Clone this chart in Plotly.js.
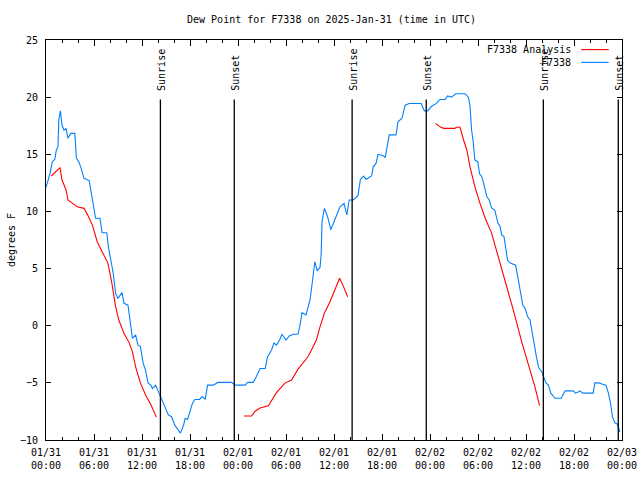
<!DOCTYPE html>
<html>
<head>
<meta charset="utf-8">
<script src="https://cdn.plot.ly/plotly-3.0.1.min.js"></script>
<style>html,body{margin:0;padding:0;background:#fff;}#chart{width:640px;height:480px;}</style>
</head>
<body>
<div id="chart"></div>
<script>
// Observed dew point (F7338)
const obsTimes = [
 "2025-01-31 00:00","2025-01-31 00:30","2025-01-31 00:48","2025-01-31 01:06","2025-01-31 01:18","2025-01-31 01:30",
 "2025-01-31 01:36","2025-01-31 01:48","2025-01-31 02:00","2025-01-31 02:15","2025-01-31 02:30","2025-01-31 02:45",
 "2025-01-31 03:06","2025-01-31 03:36","2025-01-31 03:48","2025-01-31 04:06","2025-01-31 04:24","2025-01-31 04:45",
 "2025-01-31 05:24","2025-01-31 05:36","2025-01-31 06:00","2025-01-31 06:12","2025-01-31 06:45","2025-01-31 07:00",
 "2025-01-31 07:36","2025-01-31 07:48","2025-01-31 08:06","2025-01-31 08:24","2025-01-31 08:42","2025-01-31 09:00",
 "2025-01-31 09:30","2025-01-31 09:45","2025-01-31 10:15","2025-01-31 10:30","2025-01-31 10:48","2025-01-31 11:12",
 "2025-01-31 11:30","2025-01-31 11:48","2025-01-31 12:09","2025-01-31 12:27","2025-01-31 12:45","2025-01-31 13:06",
 "2025-01-31 13:18","2025-01-31 13:42","2025-01-31 14:00","2025-01-31 14:30","2025-01-31 14:54","2025-01-31 15:18",
 "2025-01-31 15:42","2025-01-31 16:06","2025-01-31 16:30","2025-01-31 16:48","2025-01-31 17:12","2025-01-31 17:24",
 "2025-01-31 17:42","2025-01-31 18:00","2025-01-31 18:18","2025-01-31 18:36","2025-01-31 19:12","2025-01-31 19:30",
 "2025-01-31 19:54","2025-01-31 20:12","2025-01-31 20:54","2025-01-31 21:30","2025-01-31 23:12","2025-01-31 23:36",
 "2025-02-01 00:54","2025-02-01 01:12","2025-02-01 01:54","2025-02-01 02:12","2025-02-01 02:45","2025-02-01 03:24",
 "2025-02-01 03:42","2025-02-01 03:54","2025-02-01 04:12","2025-02-01 04:30","2025-02-01 04:48","2025-02-01 05:12",
 "2025-02-01 05:30","2025-02-01 06:00","2025-02-01 06:24","2025-02-01 06:54","2025-02-01 07:30","2025-02-01 07:45",
 "2025-02-01 08:00","2025-02-01 08:30","2025-02-01 08:48","2025-02-01 09:00","2025-02-01 09:12","2025-02-01 09:24",
 "2025-02-01 09:36","2025-02-01 09:54","2025-02-01 10:15","2025-02-01 10:24","2025-02-01 10:30","2025-02-01 10:48",
 "2025-02-01 11:12","2025-02-01 11:36","2025-02-01 11:54","2025-02-01 12:18","2025-02-01 12:45","2025-02-01 13:15",
 "2025-02-01 13:36","2025-02-01 13:54","2025-02-01 14:24","2025-02-01 15:00","2025-02-01 15:18","2025-02-01 15:42",
 "2025-02-01 16:00","2025-02-01 16:42","2025-02-01 16:54","2025-02-01 17:15","2025-02-01 17:30","2025-02-01 18:06",
 "2025-02-01 18:24","2025-02-01 18:36","2025-02-01 18:54","2025-02-01 19:45","2025-02-01 20:00","2025-02-01 20:30",
 "2025-02-01 20:54","2025-02-01 21:24","2025-02-01 22:54","2025-02-01 23:18","2025-02-01 23:42","2025-02-02 00:12",
 "2025-02-02 00:48","2025-02-02 01:15","2025-02-02 01:54","2025-02-02 02:12","2025-02-02 02:42","2025-02-02 03:12",
 "2025-02-02 04:24","2025-02-02 04:48","2025-02-02 05:00","2025-02-02 05:12","2025-02-02 05:24","2025-02-02 05:36",
 "2025-02-02 05:58","2025-02-02 06:12","2025-02-02 06:30","2025-02-02 06:48","2025-02-02 07:06","2025-02-02 07:24",
 "2025-02-02 07:42","2025-02-02 08:06","2025-02-02 08:30","2025-02-02 08:45","2025-02-02 08:58","2025-02-02 09:15",
 "2025-02-02 09:30","2025-02-02 09:42","2025-02-02 10:06","2025-02-02 10:42","2025-02-02 10:58","2025-02-02 11:15",
 "2025-02-02 11:36","2025-02-02 11:54","2025-02-02 12:12","2025-02-02 12:30","2025-02-02 12:42","2025-02-02 13:00",
 "2025-02-02 13:18","2025-02-02 13:36","2025-02-02 13:58","2025-02-02 14:12","2025-02-02 14:30","2025-02-02 14:48",
 "2025-02-02 15:06","2025-02-02 15:24","2025-02-02 15:36","2025-02-02 16:24","2025-02-02 16:54","2025-02-02 17:54",
 "2025-02-02 18:12","2025-02-02 18:30","2025-02-02 18:45","2025-02-02 19:06","2025-02-02 20:24","2025-02-02 20:36",
 "2025-02-02 21:06","2025-02-02 21:30","2025-02-02 22:00","2025-02-02 22:18","2025-02-02 22:36","2025-02-02 22:48",
 "2025-02-02 23:06","2025-02-02 23:24","2025-02-02 23:45"
];
const obsDew = [
 12.1,13.3,14.35,14.55,15.4,15.67,
 18.0,18.8,17.56,17.1,17.27,16.4,
 16.83,16.83,14.65,14.35,13.77,12.9,
 12.7,11.9,10.4,9.4,9.4,8.14,
 8.14,6.9,5.75,4.6,2.83,2.4,
 2.9,1.96,1.8,0.65,-1.1,-0.8,
 -1.7,-1.8,-3.3,-3.9,-5.0,-5.2,
 -5.5,-5.2,-5.7,-6.5,-7.2,-7.8,
 -7.96,-8.7,-9.1,-9.4,-8.7,-8.1,
 -8.2,-7.4,-6.8,-6.45,-6.45,-6.2,
 -6.45,-5.2,-5.2,-4.96,-4.96,-5.2,
 -5.2,-4.96,-4.96,-4.6,-3.75,-3.75,
 -2.7,-2.5,-2.1,-1.5,-1.7,-1.25,
 -0.75,-1.25,-0.9,-0.75,-0.75,0.06,
 1.14,0.94,1.8,2.25,3.3,4.7,
 5.6,4.8,5.1,6.3,9.1,10.27,
 9.54,8.4,8.96,9.7,10.4,10.7,
 9.7,11.0,11.0,11.4,12.8,13.1,
 12.8,13.1,13.9,14.2,15.0,14.9,
 14.7,15.5,16.7,16.7,17.85,18.15,
 19.3,19.45,19.45,18.8,18.8,19.2,
 19.45,19.8,19.8,20.1,20.0,20.3,
 20.3,20.0,19.2,17.1,16.1,14.5,
 14.35,13.3,13.0,12.2,11.3,11.0,
 10.3,10.1,8.96,8.7,7.94,7.8,
 6.6,5.7,5.46,5.3,4.3,3.1,
 1.8,1.5,0.8,0.5,-0.4,-1.5,
 -2.7,-3.7,-4.0,-4.46,-5.0,-5.2,
 -5.9,-6.15,-6.35,-6.35,-5.7,-5.7,
 -5.9,-5.8,-5.7,-5.9,-5.9,-5.0,
 -5.0,-5.1,-5.2,-5.9,-6.9,-7.96,
 -8.5,-8.6,-9.3
];

// Analysis dew point (F7338 Analysis); null marks a gap
const anaTimes = [
 "2025-01-31 00:40","2025-01-31 01:45","2025-01-31 02:00","2025-01-31 02:30","2025-01-31 02:45","2025-01-31 03:18",
 "2025-01-31 03:54","2025-01-31 04:45","2025-01-31 05:12","2025-01-31 05:48","2025-01-31 06:24","2025-01-31 07:00",
 "2025-01-31 07:45","2025-01-31 08:12","2025-01-31 08:42","2025-01-31 09:06","2025-01-31 09:45","2025-01-31 10:24",
 "2025-01-31 10:48","2025-01-31 11:12","2025-01-31 11:48","2025-01-31 12:27","2025-01-31 13:06","2025-01-31 13:48",
 "2025-01-31 14:00",
 "2025-02-01 00:45","2025-02-01 01:42","2025-02-01 02:06","2025-02-01 02:45","2025-02-01 03:48","2025-02-01 04:12",
 "2025-02-01 04:48","2025-02-01 05:54","2025-02-01 06:42","2025-02-01 07:30","2025-02-01 08:42","2025-02-01 09:12",
 "2025-02-01 09:48","2025-02-01 10:15","2025-02-01 10:48","2025-02-01 11:30","2025-02-01 12:06","2025-02-01 12:42",
 "2025-02-01 13:12","2025-02-01 13:42",
 "2025-02-01 14:00",
 "2025-02-02 00:42","2025-02-02 01:15","2025-02-02 01:42","2025-02-02 03:06","2025-02-02 03:18","2025-02-02 03:45",
 "2025-02-02 04:12","2025-02-02 04:36","2025-02-02 05:00","2025-02-02 05:36","2025-02-02 06:15","2025-02-02 06:54",
 "2025-02-02 07:42","2025-02-02 08:18","2025-02-02 09:24","2025-02-02 10:24","2025-02-02 11:30","2025-02-02 12:30",
 "2025-02-02 13:06","2025-02-02 13:42"
];
const anaDew = [
 13.1,13.83,12.75,11.9,11.0,10.7,
 10.4,10.27,9.7,8.8,7.35,6.5,
 5.46,3.85,1.67,0.5,-0.67,-1.5,
 -2.27,-3.6,-5.0,-6.06,-6.9,-8.0,
 null,
 -7.9,-7.9,-7.5,-7.2,-7.0,-6.56,
 -5.86,-5.0,-4.75,-3.8,-2.76,-2.1,
 -1.25,-0.1,1.1,2.1,3.1,4.15,
 3.4,2.54,
 null,
 17.7,17.4,17.27,17.27,17.36,17.36,
 16.25,15.4,13.9,12.2,10.7,9.4,
 8.1,6.6,4.0,1.4,-1.5,-3.9,
 -5.3,-7.0
];

const seriesNames = ["F7338 Analysis", "F7338"];
const seriesColors = ["#ff0000", "#0080ff"];

const sunEventTimes = ["2025-01-31 14:18","2025-01-31 23:32","2025-02-01 14:16","2025-02-01 23:32","2025-02-02 14:10","2025-02-02 23:32"];
const sunEventLabels = ["Sunrise","Sunset","Sunrise","Sunset","Sunrise","Sunset"];

const FONT = "DejaVu Sans Mono, Liberation Mono, monospace";

const traces = [
  {x: anaTimes, y: anaDew, type: "scatter", mode: "lines", name: seriesNames[0],
   line: {color: seriesColors[0], width: 1.1}, connectgaps: false, showlegend: false},
  {x: obsTimes, y: obsDew, type: "scatter", mode: "lines", name: seriesNames[1],
   line: {color: seriesColors[1], width: 1.1}, showlegend: false}
];

const shapes = [];
const annotations = [];
sunEventTimes.forEach((t, i) => {
  shapes.push({type: "line", xref: "x", yref: "y", x0: t, x1: t, y0: -10, y1: 19.8,
               line: {color: "#000", width: 1.3}});
  annotations.push({x: t, y: 20.4, xref: "x", yref: "y", text: sunEventLabels[i], textangle: -90,
                    showarrow: false, xanchor: "center", yanchor: "bottom", xshift: 1,
                    font: {family: FONT, size: 10, color: "#000"}});
});

// gnuplot-style key at top right
const keyRowsY = [0.976, 0.944];
seriesNames.forEach((nm, i) => {
  annotations.push({x: 0.915, y: keyRowsY[i], xref: "paper", yref: "paper", text: nm, showarrow: false,
                    xanchor: "right", yanchor: "middle", font: {family: FONT, size: 10, color: "#000"}});
  shapes.push({type: "line", xref: "paper", yref: "paper", x0: 0.929, x1: 0.977, y0: keyRowsY[i], y1: keyRowsY[i],
               line: {color: seriesColors[i], width: 1.1}});
});

const layout = {
  width: 640, height: 480,
  margin: {l: 46, r: 18, t: 40, b: 40, pad: 0},
  paper_bgcolor: "#fff", plot_bgcolor: "#fff",
  font: {family: FONT, size: 10, color: "#000"},
  title: {text: "Dew Point for F7338 on 2025-Jan-31 (time in UTC)", x: 0.518, xref: "container",
          y: 0.96, yref: "container", xanchor: "center", yanchor: "middle",
          font: {family: FONT, size: 10, color: "#000"}},
  xaxis: {type: "date", range: ["2025-01-31 00:00", "2025-02-03 00:00"],
          tick0: "2025-01-31 00:00", dtick: 21600000, tickformat: "%m/%d<br>%H:%M",
          ticks: "inside", ticklen: 6, tickcolor: "#000", tickwidth: 1,
          minor: {dtick: 7200000, ticks: "inside", ticklen: 3, tickcolor: "#000", tickwidth: 1},
          showline: true, linecolor: "#000", linewidth: 1, mirror: "allticks",
          showgrid: false, zeroline: false, fixedrange: true, ticklabelstandoff: 3,
          tickfont: {family: FONT, size: 10, color: "#000"}},
  yaxis: {range: [-10, 25], dtick: 5, tick0: 0,
          ticks: "inside", ticklen: 5, tickcolor: "#000", tickwidth: 1,
          showline: true, linecolor: "#000", linewidth: 1, mirror: "allticks",
          showgrid: false, zeroline: false, fixedrange: true, ticklabelstandoff: 5,
          title: {text: "degrees F", standoff: 2, font: {family: FONT, size: 10, color: "#000"}},
          tickfont: {family: FONT, size: 10, color: "#000"}},
  showlegend: false,
  shapes: shapes,
  annotations: annotations
};

Plotly.newPlot("chart", traces, layout, {staticPlot: true, displayModeBar: false});
</script>
</body>
</html>
